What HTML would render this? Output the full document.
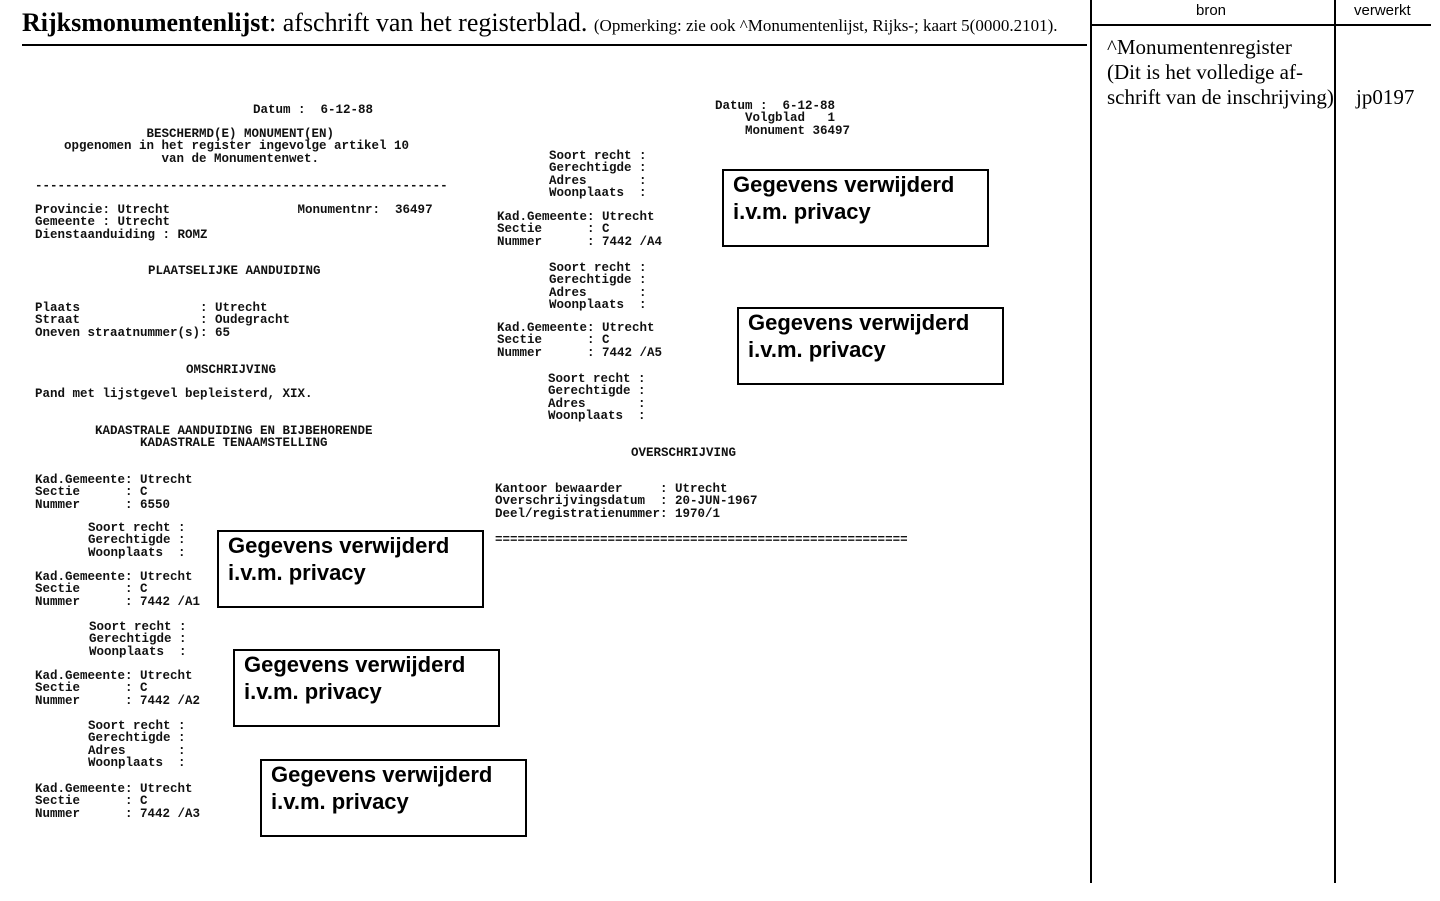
<!DOCTYPE html>
<html><head><meta charset="utf-8"><style>
body{margin:0;width:1440px;height:901px;background:#fff;position:relative;overflow:hidden;}
pre{position:absolute;margin:0;font-family:"Liberation Mono",monospace;font-size:12.5px;line-height:12.4px;color:#111;font-weight:bold;}
.box{position:absolute;border:2px solid #000;box-sizing:border-box;padding:0 0 0 9px;font-family:"Liberation Sans",sans-serif;font-weight:bold;font-size:22px;line-height:27px;color:#000;width:267px;height:78px;}
.ln{position:absolute;background:#000;}
.t{position:absolute;font-family:"Liberation Serif",serif;color:#000;white-space:nowrap;}
</style></head><body>
<div class="t" style="left:22px;top:8px;font-size:26px;"><b>Rijksmonumentenlijst</b>: afschrift van het registerblad. <span style="font-size:17px">(Opmerking: zie ook ^Monumentenlijst, Rijks-; kaart 5(0000.2101).</span></div>
<div class="ln" style="left:22px;top:44px;width:1065px;height:1.5px"></div>
<div class="ln" style="left:1090px;top:0;width:2px;height:883px"></div>
<div class="ln" style="left:1334px;top:0;width:2px;height:883px"></div>
<div class="ln" style="left:1091px;top:24px;width:340px;height:2px"></div>
<div class="t" style="left:1196px;top:2px;font-family:'Liberation Sans',sans-serif;font-size:15px;">bron</div>
<div class="t" style="left:1354px;top:2px;font-family:'Liberation Sans',sans-serif;font-size:15px;">verwerkt</div>
<div class="t" style="left:1107px;top:35px;font-size:21px;line-height:25px;">^Monumentenregister<br>(Dit is het volledige af-<br>schrift van de inschrijving)</div>
<div class="t" style="left:1356px;top:85px;font-size:21px;">jp0197</div>

<pre style="left:253px;top:104px">Datum :  6-12-88</pre>
<pre style="left:64px;top:128px">           BESCHERMD(E) MONUMENT(EN)
opgenomen in het register ingevolge artikel 10
             van de Monumentenwet.</pre>
<pre style="left:35px;top:180px">-------------------------------------------------------</pre>
<pre style="left:35px;top:204px">Provincie: Utrecht                 Monumentnr:  36497
Gemeente : Utrecht
Dienstaanduiding : ROMZ</pre>
<pre style="left:148px;top:265px">PLAATSELIJKE AANDUIDING</pre>
<pre style="left:35px;top:302px">Plaats                : Utrecht
Straat                : Oudegracht
Oneven straatnummer(s): 65</pre>
<pre style="left:186px;top:364px">OMSCHRIJVING</pre>
<pre style="left:35px;top:388px">Pand met lijstgevel bepleisterd, XIX.</pre>
<pre style="left:95px;top:425px">KADASTRALE AANDUIDING EN BIJBEHORENDE
      KADASTRALE TENAAMSTELLING</pre>
<pre style="left:35px;top:474px">Kad.Gemeente: Utrecht
Sectie      : C
Nummer      : 6550</pre>
<pre style="left:88px;top:522px">Soort recht :
Gerechtigde :
Woonplaats  :</pre>
<pre style="left:35px;top:571px">Kad.Gemeente: Utrecht
Sectie      : C
Nummer      : 7442 /A1</pre>
<pre style="left:89px;top:621px">Soort recht :
Gerechtigde :
Woonplaats  :</pre>
<pre style="left:35px;top:670px">Kad.Gemeente: Utrecht
Sectie      : C
Nummer      : 7442 /A2</pre>
<pre style="left:88px;top:720px">Soort recht :
Gerechtigde :
Adres       :
Woonplaats  :</pre>
<pre style="left:35px;top:783px">Kad.Gemeente: Utrecht
Sectie      : C
Nummer      : 7442 /A3</pre>

<pre style="left:715px;top:100px">Datum :  6-12-88
    Volgblad   1
    Monument 36497</pre>
<pre style="left:549px;top:150px">Soort recht :
Gerechtigde :
Adres       :
Woonplaats  :</pre>
<pre style="left:497px;top:211px">Kad.Gemeente: Utrecht
Sectie      : C
Nummer      : 7442 /A4</pre>
<pre style="left:549px;top:262px">Soort recht :
Gerechtigde :
Adres       :
Woonplaats  :</pre>
<pre style="left:497px;top:322px">Kad.Gemeente: Utrecht
Sectie      : C
Nummer      : 7442 /A5</pre>
<pre style="left:548px;top:373px">Soort recht :
Gerechtigde :
Adres       :
Woonplaats  :</pre>
<pre style="left:631px;top:447px">OVERSCHRIJVING</pre>
<pre style="left:495px;top:483px">Kantoor bewaarder     : Utrecht
Overschrijvingsdatum  : 20-JUN-1967
Deel/registratienummer: 1970/1</pre>
<pre style="left:495px;top:534px">=======================================================</pre>

<div class="box" style="left:722px;top:169px">Gegevens verwijderd<br>i.v.m. privacy</div>
<div class="box" style="left:737px;top:307px">Gegevens verwijderd<br>i.v.m. privacy</div>
<div class="box" style="left:217px;top:530px">Gegevens verwijderd<br>i.v.m. privacy</div>
<div class="box" style="left:233px;top:649px">Gegevens verwijderd<br>i.v.m. privacy</div>
<div class="box" style="left:260px;top:759px">Gegevens verwijderd<br>i.v.m. privacy</div>
</body></html>
